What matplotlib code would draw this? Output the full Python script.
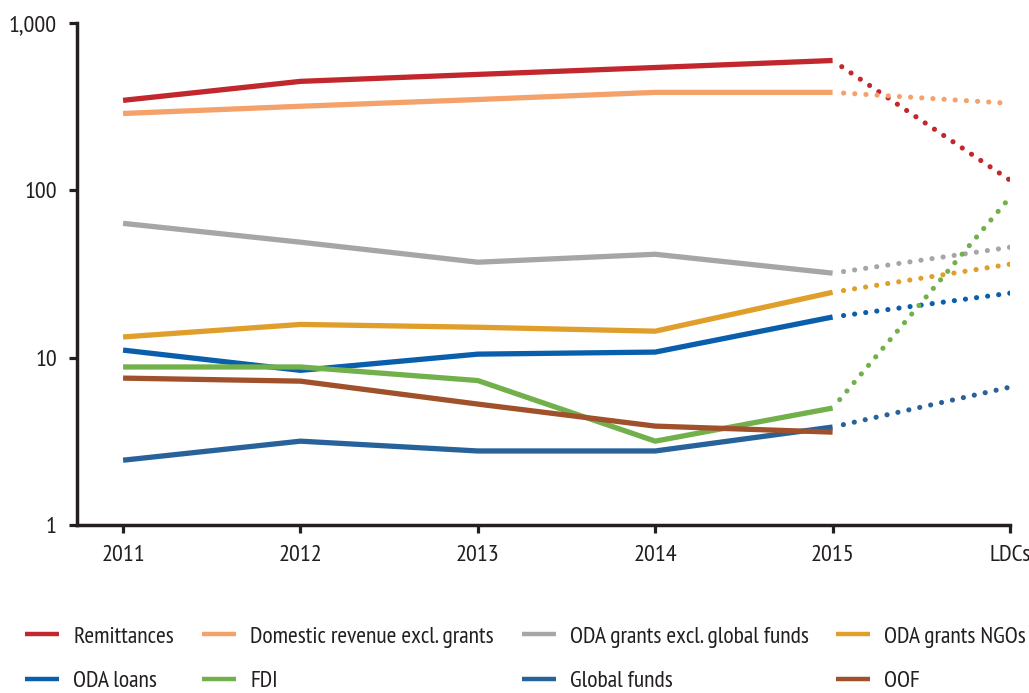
import matplotlib
matplotlib.use("Agg")
import matplotlib.pyplot as plt
from matplotlib.ticker import FixedLocator, FixedFormatter, NullLocator

plt.rcParams['font.family'] = ['PT Sans Narrow', 'DejaVu Sans']
plt.rcParams['font.stretch'] = 'condensed'
plt.rcParams['lines.scale_dashes'] = False

categories = ["2011", "2012", "2013", "2014", "2015", "LDCs"]

series_names = [
    "Remittances", "Domestic revenue excl. grants",
    "ODA grants excl. global funds", "ODA grants NGOs",
    "ODA loans", "FDI", "Global funds", "OOF",
]

# Values per year (2011-2015) and the LDC reference value (None = not shown)
remittances = [345, 448, 493, 542, 597]
remittances_ldc = 115
domestic_revenue = [288, 318, 349, 385, 385]
domestic_revenue_ldc = 331
oda_grants = [63.5, 49, 37.2, 41.5, 32]
oda_grants_ldc = 45.7
oda_grants_ngos = [13.3, 15.8, 15.2, 14.4, 24.6]
oda_grants_ngos_ldc = 36.2
oda_loans = [11.1, 8.4, 10.5, 10.8, 17.5]
oda_loans_ldc = 24.3
fdi = [8.8, 8.8, 7.3, 3.17, 5.0]
fdi_ldc = 90.8
global_funds = [2.44, 3.17, 2.77, 2.77, 3.85]
global_funds_ldc = 6.67
oof = [7.55, 7.24, 5.28, 3.9, 3.59]
oof_ldc = None

colors = ["#c1272d", "#f4a26a", "#a6a6a6", "#e09e2b",
          "#0a5fad", "#72b04b", "#27639a", "#a0502a"]

yearly = [remittances, domestic_revenue, oda_grants, oda_grants_ngos,
          oda_loans, fdi, global_funds, oof]
ldc = [remittances_ldc, domestic_revenue_ldc, oda_grants_ldc, oda_grants_ngos_ldc,
       oda_loans_ldc, fdi_ldc, global_funds_ldc, oof_ldc]

ink = "#231f20"
fig = plt.figure(figsize=(10.29, 6.93), dpi=100)
ax = fig.add_axes([0.0748, 0.2424, 0.9067, 0.7244])

x_years = list(range(5))
x_ldc = 5
handles = []
for name, vals, ref, col in zip(series_names, yearly, ldc, colors):
    h, = ax.plot(x_years, vals, color=col, lw=3.8, solid_capstyle='butt',
                 label=name, zorder=3)
    handles.append(h)
    if ref is not None:
        # dotted link from the last year to the LDC reference value
        ax.plot([x_years[-1], x_ldc], [vals[-1], ref], color=col, lw=3.7,
                linestyle=(0.1, (0.05, 8.0)), dash_capstyle='round', zorder=2)

ax.set_yscale('log')
ax.set_ylim(1, 1000)
ax.set_xlim(-0.26, 5)
ax.yaxis.set_major_locator(FixedLocator([1, 10, 100, 1000]))
ax.yaxis.set_major_formatter(FixedFormatter(["1", "10", "100", "1,000"]))
ax.yaxis.set_minor_locator(NullLocator())
ax.set_xticks(range(6))
ax.set_xticklabels(categories)

for side in ("top", "right"):
    ax.spines[side].set_visible(False)
for side in ("left", "bottom"):
    ax.spines[side].set_linewidth(2.5)
    ax.spines[side].set_color(ink)
ax.tick_params(axis='both', direction='out', length=5.5, width=2.3,
               color=ink, labelsize=17.5, labelcolor=ink)
ax.tick_params(axis='x', pad=9)
ax.tick_params(axis='y', pad=9)

# Legend laid out as four columns, each holding two series (row-wise order)
col_x = [25, 202, 522, 836]
fw, fh = 1029, 693
for c, x0 in enumerate(col_x):
    pair = [handles[c], handles[c + 4]]
    leg = fig.legend(handles=pair, loc='upper left',
                     bbox_to_anchor=(x0 / fw, 1 - 626 / fh),
                     frameon=False, fontsize=17, handlelength=1.45,
                     handletextpad=0.6, labelspacing=0.98, borderaxespad=0,
                     borderpad=0, labelcolor=ink)
    for ln in leg.get_lines():
        ln.set_linewidth(3.2)

fig.savefig("out.png", dpi=100)
